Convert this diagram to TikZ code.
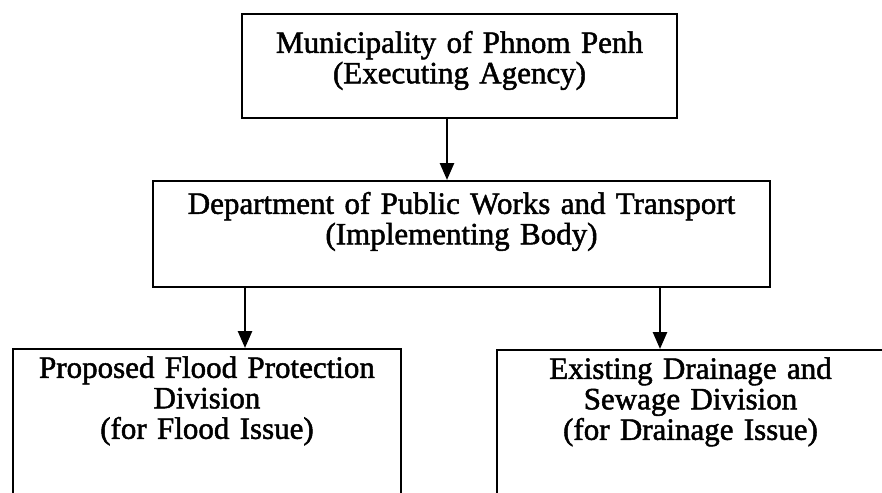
\documentclass[tikz,border=0pt]{standalone}
\usepackage{fontspec}
\setmainfont{Liberation Serif}[FakeBold=1.6]
\usetikzlibrary{arrows.meta}

\begin{document}
\begin{tikzpicture}[x=1pt, y=1pt,
%overlay,
every node/.style={inner sep=0pt, font=\fontsize{31}{30.5}\selectfont},
box/.style={draw, line width=1.6pt, anchor=north, align=center, text height=39pt},
arr/.style={line width=2.6pt, -{Triangle[length=17pt, width=14pt]}}
]
\useasboundingbox (0,0) rectangle (882,-492);

\node[box, text width=435pt, text depth=65pt] (mpp) at (459.5,-13)
    {Municipality of Phnom Penh\\(Executing Agency)};
\node[box, text width=617pt, text height=33pt, text depth=73pt] (dpwt) at (461.5,-180)
    {Department of Public Works and Transport\\(Implementing Body)};
\node[box, text width=388pt, text height=29pt, text depth=170pt] (flood) at (207,-348)
    {Proposed Flood Protection\\Division\\(for Flood Issue)};
\node[box, text width=387pt, text height=29pt, text depth=170pt] (drain) at (690.5,-349)
    {Existing Drainage and\\Sewage Division\\(for Drainage Issue)};

\draw[arr] ([xshift=-12.5pt]mpp.south) -- ([xshift=-12.5pt]mpp.south |- dpwt.north);
\foreach \i/\s in {flood/38pt, drain/-30.5pt}
    \draw[arr] ([xshift=\s]\i.north |- dpwt.south) -- ([xshift=\s]\i.north);

\end{tikzpicture}
\end{document}
